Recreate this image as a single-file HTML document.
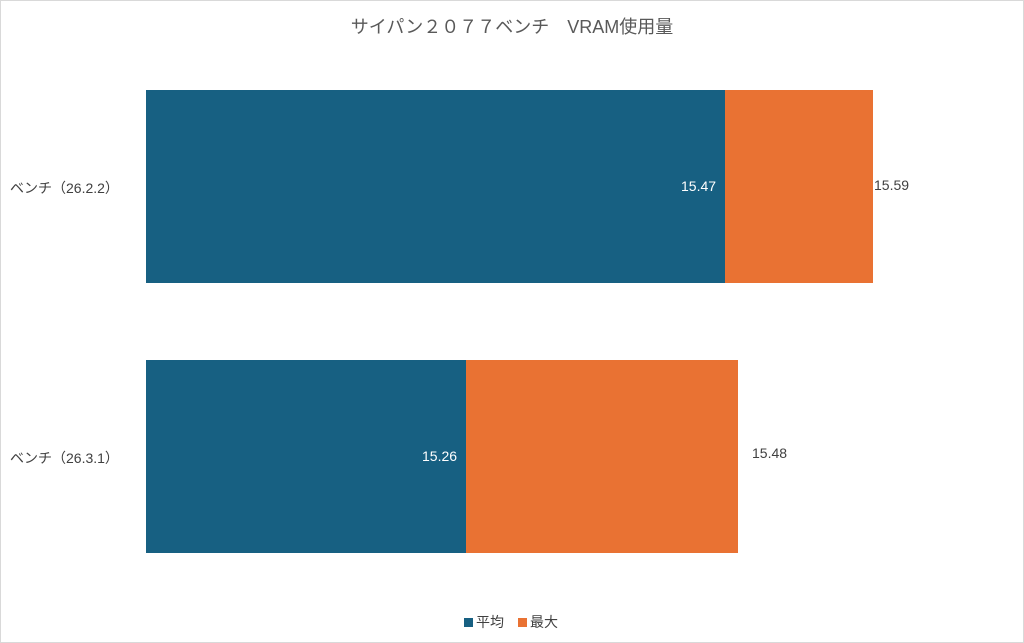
<!DOCTYPE html>
<html><head><meta charset="utf-8"><style>
html,body{margin:0;padding:0;background:#fff;}
.c{position:relative;width:1022px;height:641px;border:1px solid #d9d9d9;font-family:"Liberation Sans","Noto Sans CJK JP",sans-serif;color:#404040;overflow:hidden;}
.t{position:absolute;left:0;width:1022px;top:12px;text-align:center;font-size:18px;color:#595959;}
.b{position:absolute;}
.l{position:absolute;font-size:14px;}
</style></head><body><div class="c">
<div class="t">サイパン２０７７ベンチ　VRAM使用量</div>
<div class="b" style="left:145px;top:89px;width:579px;height:193px;background:#176082"></div>
<div class="b" style="left:724px;top:89px;width:148px;height:193px;background:#e97233"></div>
<div class="b" style="left:145px;top:359px;width:320px;height:193px;background:#176082"></div>
<div class="b" style="left:465px;top:359px;width:272px;height:193px;background:#e97233"></div>
<div class="l" style="left:680px;top:177px;color:#fff;">15.47</div>
<div class="l" style="left:873px;top:176px;">15.59</div>
<div class="l" style="left:421px;top:447px;color:#fff;">15.26</div>
<div class="l" style="left:751px;top:444px;">15.48</div>
<div class="l" style="left:9px;top:177px;">ベンチ（26.2.2）</div>
<div class="l" style="left:9px;top:447px;">ベンチ（26.3.1）</div>
<div class="l" style="left:463px;top:611px;"><span style="display:inline-block;width:9px;height:9px;background:#176082;margin-right:3px;"></span>平均　<span style="display:inline-block;width:9px;height:9px;background:#e97233;margin-right:3px;"></span>最大</div>
</div></body></html>
